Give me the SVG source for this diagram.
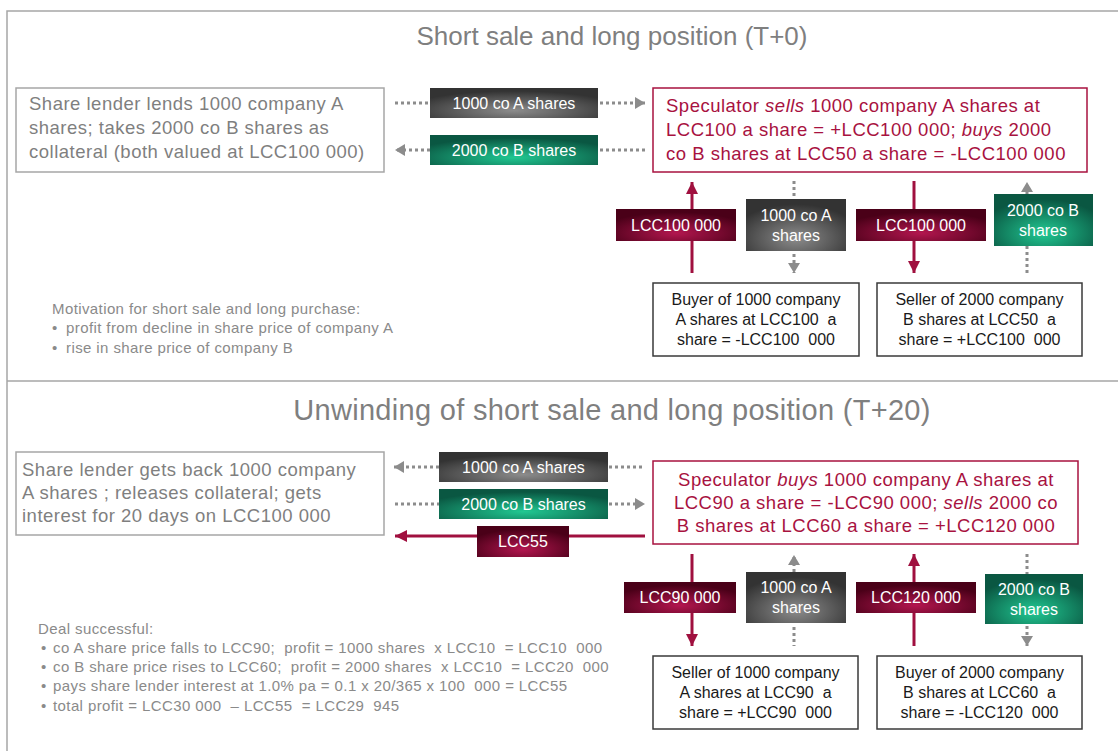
<svg xmlns="http://www.w3.org/2000/svg" width="1118" height="751" viewBox="0 0 1118 751">
<defs>
<radialGradient id="gCrim" cx="50%" cy="75%" r="65%"><stop offset="0" stop-color="#b3164f"/><stop offset="1" stop-color="#4a0018"/></radialGradient>
<radialGradient id="gDark" cx="50%" cy="75%" r="65%"><stop offset="0" stop-color="#8c8c8c"/><stop offset="1" stop-color="#333333"/></radialGradient>
<radialGradient id="gGreen" cx="50%" cy="75%" r="65%"><stop offset="0" stop-color="#21c892"/><stop offset="1" stop-color="#0a5742"/></radialGradient>
<marker id="hGray" viewBox="0 0 10 12" markerWidth="10" markerHeight="12" refX="10" refY="6" orient="auto" markerUnits="userSpaceOnUse"><path d="M0,0 L10,6 L0,12 z" fill="#8c8c8c"/></marker>
<marker id="hCrim" viewBox="0 0 12 12" markerWidth="12" markerHeight="12" refX="12" refY="6" orient="auto" markerUnits="userSpaceOnUse"><path d="M0,0 L12,6 L0,12 z" fill="#a0103f"/></marker>
</defs>
<style>
text{font-family:"Liberation Sans",Arial,sans-serif}
.frame{stroke:#a6a6a6;stroke-width:1.5;fill:none}
.title{font-size:26px;fill:#7f7f7f;text-anchor:middle}
.lend rect{fill:#fff;stroke:#a6a6a6;stroke-width:1.5}
.lend text{font-size:18.5px;fill:#7f7f7f;letter-spacing:0.5px}
.spec rect{fill:#fff;stroke:#a8123f;stroke-width:1.5}
.spec text{font-size:18.5px;fill:#a8123f;letter-spacing:0.5px}
.cp rect{fill:#fff;stroke:#3a3a3a;stroke-width:1.5}
.cp text{font-size:16px;fill:#1a1a1a;text-anchor:middle}
.lbl text{font-size:16px;fill:#fff;text-anchor:middle}
.note{font-size:15px;fill:#8a8a8a;letter-spacing:0.4px}
.dot{stroke:#8c8c8c;stroke-width:3;stroke-dasharray:3 3;fill:none}
.money{stroke:#a0103f;stroke-width:3;fill:none}
</style>
<rect width="1118" height="751" fill="#fff"/>
<g id="frame">
<path class="frame" d="M7,751 V11 H1118"/>
<path class="frame" d="M7,381 H1118"/>
</g>
<text class="title" x="612" y="45">Short sale and long position (T+0)</text>
<text class="title" x="612" y="420" style="font-size:29px;letter-spacing:0.3px">Unwinding of short sale and long position (T+20)</text>

<g id="connectors">
<line class="dot" x1="395" y1="103" x2="430" y2="103"/>
<line class="dot" x1="600" y1="103" x2="645" y2="103" marker-end="url(#hGray)"/>
<line class="dot" x1="430" y1="150" x2="395" y2="150" marker-end="url(#hGray)"/>
<line class="dot" x1="600" y1="150" x2="645" y2="150"/>
<line class="money" x1="692" y1="273" x2="692" y2="182" marker-end="url(#hCrim)"/>
<line class="dot" x1="794" y1="181" x2="794" y2="199"/>
<line class="dot" x1="794" y1="254" x2="794" y2="273" marker-end="url(#hGray)"/>
<line class="money" x1="914" y1="181" x2="914" y2="273" marker-end="url(#hCrim)"/>
<line class="dot" x1="1027" y1="273" x2="1027" y2="246"/>
<line class="dot" x1="1027" y1="194" x2="1027" y2="182" marker-end="url(#hGray)"/>
<line class="dot" x1="439" y1="467" x2="394" y2="467" marker-end="url(#hGray)"/>
<line class="dot" x1="609" y1="467" x2="645" y2="467"/>
<line class="dot" x1="395" y1="504" x2="439" y2="504"/>
<line class="dot" x1="609" y1="504" x2="645" y2="504" marker-end="url(#hGray)"/>
<line class="money" x1="645" y1="536" x2="395" y2="536" marker-end="url(#hCrim)"/>
<line class="money" x1="692" y1="554" x2="692" y2="646" marker-end="url(#hCrim)"/>
<line class="dot" x1="794" y1="572" x2="794" y2="555" marker-end="url(#hGray)"/>
<line class="dot" x1="794" y1="627" x2="794" y2="646"/>
<line class="money" x1="914" y1="646" x2="914" y2="554" marker-end="url(#hCrim)"/>
<line class="dot" x1="1027" y1="554" x2="1027" y2="574"/>
<line class="dot" x1="1027" y1="626" x2="1027" y2="646" marker-end="url(#hGray)"/>
</g>

<g id="lender-top" class="lend">
<rect x="16" y="88" width="368" height="84"/>
<text x="29" y="110">Share lender lends 1000 company A</text>
<text x="29" y="134">shares; takes 2000 co B shares as</text>
<text x="29" y="158">collateral (both valued at LCC100 000)</text>
</g>
<g id="lbl-a-top" class="lbl">
<rect x="430" y="88" width="168" height="30" fill="url(#gDark)"/>
<text x="514" y="109">1000 co A shares</text>
</g>
<g id="lbl-b-top" class="lbl">
<rect x="430" y="135" width="168" height="30" fill="url(#gGreen)"/>
<text x="514" y="156">2000 co B shares</text>
</g>
<g id="spec-top" class="spec">
<rect x="653" y="88" width="434" height="84"/>
<text x="666" y="112">Speculator <tspan font-style="italic">sells</tspan> 1000 company A shares at</text>
<text x="666" y="136">LCC100 a share = +LCC100 000; <tspan font-style="italic">buys</tspan> 2000</text>
<text x="666" y="160">co B shares at LCC50 a share = -LCC100 000</text>
</g>
<g id="cash-1" class="lbl">
<rect x="616" y="209" width="120" height="32" fill="url(#gCrim)"/>
<text x="676" y="231">LCC100 000</text>
</g>
<g id="shares-a-1" class="lbl">
<rect x="746" y="199" width="100" height="52" fill="url(#gDark)"/>
<text x="796" y="221">1000 co A</text>
<text x="796" y="241">shares</text>
</g>
<g id="cash-2" class="lbl">
<rect x="856" y="209" width="130" height="32" fill="url(#gCrim)"/>
<text x="921" y="231">LCC100 000</text>
</g>
<g id="shares-b-1" class="lbl">
<rect x="994" y="194" width="99" height="52" fill="url(#gGreen)"/>
<text x="1043" y="216">2000 co B</text>
<text x="1043" y="236">shares</text>
</g>
<g id="buyer-top" class="cp">
<rect x="653" y="283" width="206" height="73"/>
<text x="756" y="305">Buyer of 1000 company</text>
<text x="756" y="325">A shares at LCC100&#160; a</text>
<text x="756" y="345">share = -LCC100&#160; 000</text>
</g>
<g id="seller-top" class="cp">
<rect x="877" y="283" width="205" height="73"/>
<text x="979.5" y="305">Seller of 2000 company</text>
<text x="979.5" y="325">B shares at LCC50&#160; a</text>
<text x="979.5" y="345">share = +LCC100&#160; 000</text>
</g>
<g id="motivation">
<text class="note" x="52" y="314">Motivation for short sale and long purchase:</text>
<text class="note" x="52" y="333">•</text>
<text class="note" x="66" y="333">profit from decline in share price of company A</text>
<text class="note" x="52" y="353">•</text>
<text class="note" x="66" y="353">rise in share price of company B</text>
</g>

<g id="lender-bottom" class="lend">
<rect x="16" y="452" width="368" height="83"/>
<text x="22" y="476">Share lender gets back 1000 company</text>
<text x="22" y="499">A shares ; releases collateral; gets</text>
<text x="22" y="522">interest for 20 days on LCC100 000</text>
</g>
<g id="lbl-a-bottom" class="lbl">
<rect x="439" y="452" width="169" height="30" fill="url(#gDark)"/>
<text x="523.5" y="473">1000 co A shares</text>
</g>
<g id="lbl-b-bottom" class="lbl">
<rect x="439" y="489" width="169" height="30" fill="url(#gGreen)"/>
<text x="523.5" y="510">2000 co B shares</text>
</g>
<g id="lbl-lcc55" class="lbl">
<rect x="477" y="526" width="92" height="31" fill="url(#gCrim)"/>
<text x="523" y="547">LCC55</text>
</g>
<g id="spec-bottom" class="spec">
<rect x="653" y="461" width="425" height="83"/>
<text x="866" y="486" text-anchor="middle">Speculator <tspan font-style="italic">buys</tspan> 1000 company A shares at</text>
<text x="866" y="509" text-anchor="middle">LCC90 a share = -LCC90 000; <tspan font-style="italic">sells</tspan> 2000 co</text>
<text x="866" y="532" text-anchor="middle">B shares at LCC60 a share = +LCC120 000</text>
</g>
<g id="cash-3" class="lbl">
<rect x="624" y="582" width="112" height="31" fill="url(#gCrim)"/>
<text x="680" y="603">LCC90 000</text>
</g>
<g id="shares-a-2" class="lbl">
<rect x="746" y="572" width="100" height="51" fill="url(#gDark)"/>
<text x="796" y="593">1000 co A</text>
<text x="796" y="613">shares</text>
</g>
<g id="cash-4" class="lbl">
<rect x="856" y="582" width="120" height="31" fill="url(#gCrim)"/>
<text x="916" y="603">LCC120 000</text>
</g>
<g id="shares-b-2" class="lbl">
<rect x="985" y="574" width="98" height="50" fill="url(#gGreen)"/>
<text x="1034" y="595">2000 co B</text>
<text x="1034" y="615">shares</text>
</g>
<g id="seller-bottom" class="cp">
<rect x="653" y="656" width="205" height="73"/>
<text x="755.5" y="678">Seller of 1000 company</text>
<text x="755.5" y="698">A shares at LCC90&#160; a</text>
<text x="755.5" y="718">share = +LCC90&#160; 000</text>
</g>
<g id="buyer-bottom" class="cp">
<rect x="877" y="656" width="205" height="73"/>
<text x="979.5" y="678">Buyer of 2000 company</text>
<text x="979.5" y="698">B shares at LCC60&#160; a</text>
<text x="979.5" y="718">share = -LCC120&#160; 000</text>
</g>
<g id="deal">
<text class="note" x="38" y="634">Deal successful:</text>
<text class="note" x="41" y="653">•</text>
<text class="note" x="53" y="653">co A share price falls to LCC90;&#160; profit = 1000 shares&#160; x LCC10&#160; = LCC10&#160; 000</text>
<text class="note" x="41" y="672">•</text>
<text class="note" x="53" y="672">co B share price rises to LCC60;&#160; profit = 2000 shares&#160; x LCC10&#160; = LCC20&#160; 000</text>
<text class="note" x="41" y="691">•</text>
<text class="note" x="53" y="691">pays share lender interest at 1.0% pa = 0.1 x 20/365 x 100&#160; 000 = LCC55</text>
<text class="note" x="41" y="711">•</text>
<text class="note" x="53" y="711">total profit = LCC30 000&#160; – LCC55&#160; = LCC29&#160; 945</text>
</g>
</svg>
